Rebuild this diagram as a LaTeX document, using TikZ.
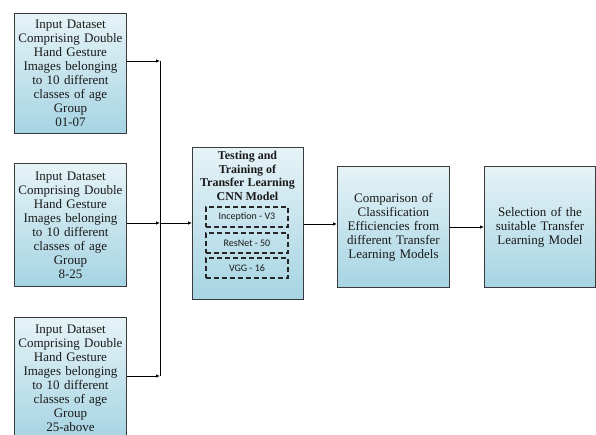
\documentclass[tikz,border=0pt]{standalone}
\usepackage{fontspec}
\setmainfont{Liberation Serif}
\newfontfamily\carlfont{Carlito}
\usetikzlibrary{arrows.meta}
\definecolor{boxtop}{HTML}{E6F3F7}
\definecolor{boxbot}{HTML}{A6D4E3}
\definecolor{boxline}{HTML}{3A3A3A}
\definecolor{txt}{HTML}{1A1A1A}
\begin{document}
\begin{tikzpicture}[x=1pt,y=-1pt,
  box/.style={draw=boxline, line width=0.9pt, top color=boxtop, bottom color=boxbot,
    align=center, inner sep=0pt, anchor=north west, text width=110pt, text=txt,
    font=\fontsize{13}{14}\selectfont},
  dbox/.style={draw=black!85, line width=1.2pt, dash pattern=on 5pt off 3pt,
    minimum width=82pt, minimum height=20pt, inner sep=0pt, text=txt,
    font=\carlfont\fontsize{10}{11}\selectfont},
  arr/.style={-{Latex[length=4pt,width=3.5pt]}, line width=0.8pt},
  ln/.style={line width=0.8pt}]
\useasboundingbox (0,0) rectangle (596,435);
\node[box, minimum width=112pt, minimum height=120pt] (in1) at (14,13)
  {Input Dataset\\Comprising Double\\Hand Gesture\\Images belonging\\to 10 different\\classes of age\\Group\\01-07};
\node[box, minimum width=112pt, minimum height=123pt] (in2) at (14,163)
  {Input Dataset\\Comprising Double\\Hand Gesture\\Images belonging\\to 10 different\\classes of age\\Group\\8-25};
\node[box, minimum width=112pt, minimum height=122pt] (in3) at (14,317)
  {Input Dataset\\Comprising Double\\Hand Gesture\\Images belonging\\to 10 different\\classes of age\\Group\\25-above};
\node[box, minimum width=111pt, minimum height=152pt, text width=108pt] (mid) at (192,147) {};
\node[font=\bfseries\fontsize{12}{13.6}\selectfont, text=txt, align=center, anchor=north, inner sep=0pt] (midt) at (247.5,151)
  {Testing and\\Training of\\Transfer Learning\\CNN Model};
\node[dbox] (d1) at (247,217) {Inception - V3};
\node[dbox] (d2) at (247,243) {ResNet - 50};
\node[dbox] (d3) at (247,268) {VGG - 16};
\node[box, minimum width=112pt, minimum height=121pt] (cmp) at (337,166)
  {Comparison of\\Classification\\Efficiencies from\\different Transfer\\Learning Models};
\node[box, minimum width=111pt, minimum height=121pt] (sel) at (484,166)
  {Selection of the\\suitable Transfer\\Learning Model};
\coordinate (j1) at (160,61);
\coordinate (j2) at (160,223);
\coordinate (j3) at (160,376);
\draw[arr] (in1.east |- j1) -- (j1);
\draw[arr] (in2.east |- j2) -- (j2);
\draw[arr] (in3.east |- j3) -- (j3);
\draw[ln] (j1) -- (j3);
\draw[arr] (j2) -- (mid.west |- j2);
\draw[arr] (mid.east |- 0,224) -- (cmp.west |- 0,224);
\draw[arr] (cmp.east |- 0,227) -- (sel.west |- 0,227);
\end{tikzpicture}
\end{document}
